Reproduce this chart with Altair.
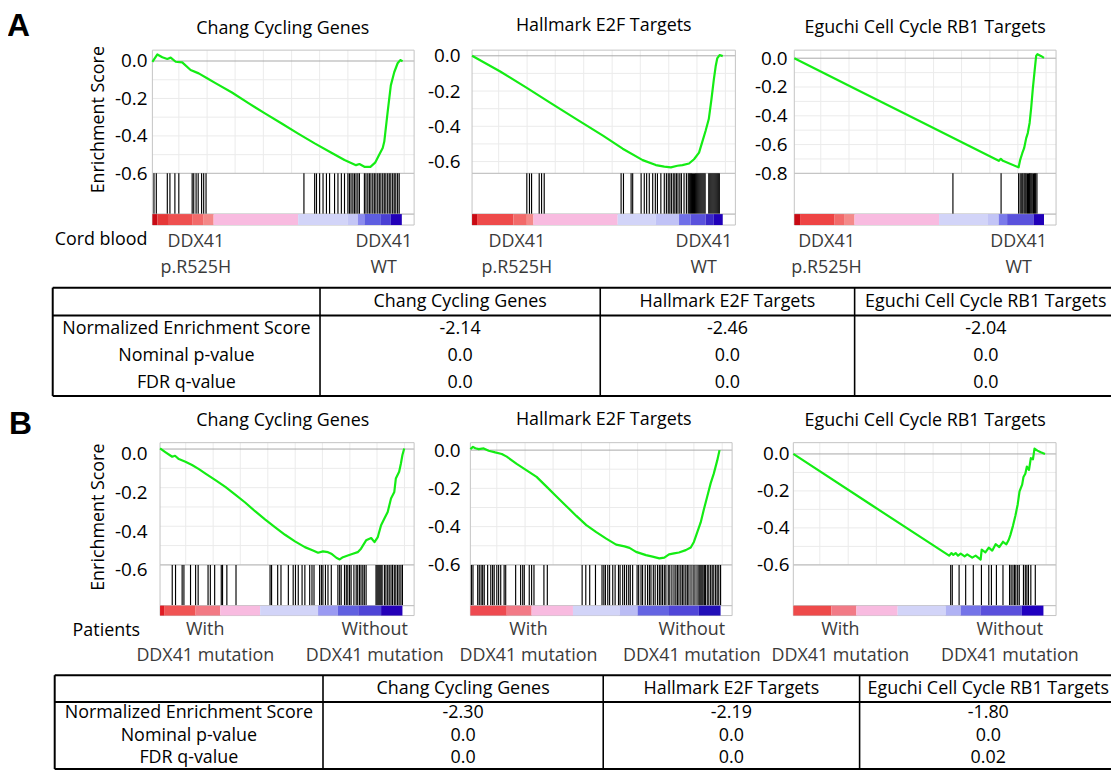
import altair as alt
import pandas as pd

FONT = "Open Sans"
LETTER_FONT = "Liberation Sans"
FRAME = "#c4c4c4"
GRID = "#ebebeb"
ZERO = "#a8a8a8"
GREEN = "#14ec14"

# ---------------- data (x = % of plot frame width, y = enrichment score) ----------------
A1_X = [0, 1.9, 3.8, 5.7, 7.0, 8.9, 11.4, 14.6, 17.7, 20.9, 24.1, 30.4, 36.7, 43.0, 49.4, 55.7, 62.0,
        68.4, 73.4, 77.8, 79.1, 81.0, 83.3, 85.1, 86.7, 88.0, 88.6, 89.9, 91.1, 92.4, 93.7, 94.7, 95.6]
A1_Y = [-0.004, 0.035, 0.020, 0.011, 0.018, -0.004, -0.007, -0.048, -0.066, -0.092, -0.118, -0.168,
        -0.225, -0.280, -0.334, -0.388, -0.440, -0.490, -0.529, -0.556, -0.550, -0.565, -0.565, -0.543,
        -0.499, -0.464, -0.430, -0.270, -0.130, -0.060, -0.012, 0.005, -0.001]
A1_HITS = [0.6, 1.5, 5.7, 6.7, 8.6, 10.1, 15.2, 15.8, 16.7, 17.5, 18.8, 19.6, 20.5, 57.9, 62.0, 62.7,
           63.9, 65.2, 66.5, 67.7, 69.6, 70.9, 72.2, 73.4, 74.7, 75.3, 75.9, 76.6, 77.2, 77.8, 78.5,
           79.1, 81.0, 81.6, 82.3, 82.9, 83.5, 84.2, 84.8, 85.4, 86.1, 86.7, 87.3, 88.0, 88.6, 89.2,
           89.9, 90.5, 91.1, 91.8, 92.4, 93.0, 93.7, 94.3]
A1_CB = [0, 1.9, 6.3, 15.2, 19.6, 23.4, 55.7, 74.7, 78.5, 81.0, 87.3, 91.1, 95.3]
A1_CBC = ["#c80a14", "#e63838", "#ee5050", "#f26a6a", "#f48888", "#f8bbe0", "#d2d4f8", "#c4c6f6",
          "#8c8cee", "#5e5ee0", "#4a40d4", "#2200b8"]

A2_X = [0, 10.7, 20.8, 29.6, 39.6, 49.7, 57.2, 64.8, 69.8, 73.0, 75.5, 78.0, 79.9, 82.4, 84.3, 86.2,
        87.4, 88.7, 89.9, 90.9, 91.8, 92.5, 93.1, 94.0, 95.2]
A2_Y = [0, -0.089, -0.182, -0.266, -0.359, -0.453, -0.527, -0.592, -0.620, -0.629, -0.633, -0.624,
        -0.620, -0.611, -0.587, -0.549, -0.490, -0.425, -0.359, -0.248, -0.136, -0.061, -0.015, 0.004,
        -0.002]
A2_HITS = [20.8, 21.8, 22.6, 25.5, 26.4, 27.4, 56.6, 57.5, 60.4, 61.0, 64.2, 65.4, 66.3, 67.3, 68.6,
           69.6, 70.4, 71.7, 73.0, 73.8, 74.5, 75.1, 75.7, 76.4, 77.0, 77.6, 78.2, 78.9, 79.5, 80.5,
           81.4, 82.1, 82.5, 82.9, 83.3, 83.7, 84.1, 84.5, 84.9, 85.3, 85.7, 86.1, 86.5, 86.9, 87.3,
           87.7, 88.1, 88.5, 89.9, 90.3, 90.7, 91.1, 91.5, 91.9, 92.3, 92.7, 93.1, 93.5, 93.9]
A2_CB = [0, 1.9, 15.7, 20.8, 23.3, 55.3, 69.8, 78.6, 83.0, 88.7, 91.8, 95.2]
A2_CBC = ["#c80a14", "#ee4a4a", "#f26a6a", "#f48a8a", "#f8bbe0", "#d2d4f8", "#c0c2f6", "#7070e8",
          "#5a52dc", "#3a28c8", "#2000b8"]

A3_X = [0, 23.0, 48.4, 78.1, 78.9, 79.7, 85.7, 86.3, 87.1, 87.8, 88.6, 89.2, 89.9, 90.5, 91.1, 91.8,
        92.4, 92.9, 94.2, 95.4]
A3_Y = [0, -0.210, -0.441, -0.713, -0.699, -0.713, -0.758, -0.706, -0.660, -0.625, -0.555, -0.520,
        -0.450, -0.345, -0.217, -0.089, 0.016, 0.028, 0.016, 0.002]
A3_HITS = [60.6, 79.0, 85.7, 86.3, 86.9, 87.3, 87.8, 88.2, 88.6, 89.1, 89.5, 89.9, 90.1, 90.5, 90.9,
           91.4, 91.8, 92.2, 92.7]
A3_CB = [0, 2.2, 15.4, 19.0, 23.0, 55.3, 74.0, 78.1, 81.3, 91.4, 95.4]
A3_CBC = ["#c80a14", "#ee4444", "#f26a6a", "#f48a8a", "#f8bbe0", "#d2d4f8", "#c2c4f6", "#7a7aea",
          "#5a52dc", "#2000b8"]

B1_X = [0, 2.2, 4.8, 5.9, 7.4, 10.0, 12.6, 15.3, 17.9, 21.8, 25.7, 29.6, 33.5, 37.4, 41.3, 45.2, 49.2,
        53.1, 57.0, 60.2, 62.2, 64.1, 66.1, 67.4, 69.4, 70.7, 72.0, 73.9, 75.9, 77.8, 79.1, 81.1, 83.1,
        84.4, 85.7, 87.0, 88.3, 89.6, 90.9, 92.2, 92.8, 94.1, 94.8, 95.4, 96.1]
B1_Y = [0.003, -0.017, -0.040, -0.035, -0.052, -0.066, -0.083, -0.104, -0.127, -0.161, -0.196, -0.236,
        -0.277, -0.322, -0.364, -0.404, -0.444, -0.478, -0.508, -0.525, -0.537, -0.530, -0.534, -0.542,
        -0.563, -0.572, -0.560, -0.551, -0.542, -0.534, -0.516, -0.473, -0.461, -0.482, -0.456, -0.395,
        -0.360, -0.326, -0.256, -0.222, -0.153, -0.118, -0.075, -0.031, 0.003]
B1_HITS = [4.8, 6.1, 8.7, 9.4, 12.0, 14.0, 15.0, 18.9, 19.8, 21.5, 24.1, 24.6, 26.3, 29.9, 43.3, 43.9,
           46.3, 47.6, 50.5, 52.4, 53.3, 54.4, 55.9, 57.0, 58.9, 59.8, 60.6, 62.8, 63.5, 64.1, 65.1,
           66.1, 67.4, 70.0, 70.7, 71.3, 72.6, 73.3, 73.9, 74.6, 75.2, 76.3, 77.2, 77.8, 78.5, 79.1,
           79.8, 80.4, 81.1, 85.0, 85.4, 85.8, 86.2, 86.6, 87.0, 87.4, 88.3, 88.9, 89.6, 90.2, 90.9,
           91.5, 92.2, 92.8, 93.5, 94.1, 94.8, 95.4]
B1_CB = [0, 1.6, 14.0, 23.7, 39.4, 62.2, 70.0, 78.0, 87.0, 95.4]
B1_CBC = ["#e01c24", "#f05454", "#f27a84", "#f8bbe0", "#d2d4f8", "#9a9af2", "#6060e0", "#4e44d6",
          "#2400b8"]

B2_X = [0, 1.0, 1.9, 3.2, 5.1, 7.0, 9.5, 12.0, 13.9, 17.7, 21.5, 25.3, 29.1, 32.9, 36.7, 40.5, 44.3,
        48.1, 51.9, 55.7, 58.9, 60.8, 63.3, 67.1, 69.6, 72.2, 74.1, 75.9, 77.8, 79.7, 82.3, 84.2, 85.4,
        86.7, 88.0, 89.2, 90.5, 91.8, 93.0, 94.3, 95.2]
B2_Y = [0.005, 0.017, 0.010, 0.005, 0.009, -0.003, -0.012, -0.020, -0.034, -0.072, -0.106, -0.140,
        -0.191, -0.242, -0.293, -0.344, -0.392, -0.429, -0.463, -0.494, -0.503, -0.511, -0.532, -0.549,
        -0.557, -0.566, -0.562, -0.545, -0.540, -0.535, -0.523, -0.509, -0.480, -0.429, -0.378, -0.310,
        -0.242, -0.174, -0.123, -0.055, 0.000]
B2_HITS = [0.4, 1.0, 2.8, 3.4, 4.1, 4.7, 5.3, 6.6, 7.8, 8.5, 9.1, 10.1, 10.8, 11.6, 12.9, 13.5, 17.3,
           19.2, 20.0, 20.6, 22.5, 23.4, 24.3, 28.1, 29.4, 42.7, 44.1, 45.6, 47.8, 50.3, 51.0, 51.6,
           52.5, 53.2, 54.4, 55.3, 56.6, 57.2, 58.2, 58.9, 59.7, 60.5, 61.1, 62.0, 63.7, 64.3, 65.2,
           65.8, 66.8, 67.7, 68.4, 69.0, 69.9, 70.6, 71.5, 72.2, 72.8, 73.4, 74.1, 74.7, 75.6, 76.2,
           77.0, 77.8, 78.5, 79.1, 79.7, 80.4, 81.0, 81.6, 82.3, 82.9, 83.5, 84.3, 85.1, 85.8, 86.6,
           87.3, 87.7, 88.1, 88.5, 88.9, 89.4, 89.8, 90.5, 91.1, 91.8, 92.4, 93.0, 93.7, 94.3, 94.9,
           95.6]
B2_CB = [0, 13.9, 23.4, 39.2, 57.0, 63.9, 75.9, 87.3, 95.6]
B2_CBC = ["#ee4a50", "#f27a86", "#f8bbe0", "#d2d4f8", "#babcf4", "#6464e2", "#5046d8", "#2210b8"]

B3_X = [0, 29.6, 59.3, 60.2, 60.9, 61.8, 62.7, 63.7, 65.2, 66.2, 68.1, 69.4, 71.3, 71.7, 73.1, 74.4,
        75.7, 77.0, 78.4, 79.8, 81.1, 82.0, 82.6, 83.6, 84.5, 85.4, 86.1, 87.1, 87.6, 88.3, 88.9, 89.7,
        90.4, 91.2, 91.8, 92.9, 94.2, 95.8]
B3_Y = [0, -0.275, -0.550, -0.536, -0.546, -0.536, -0.550, -0.539, -0.554, -0.543, -0.561, -0.550,
        -0.571, -0.518, -0.532, -0.507, -0.523, -0.488, -0.504, -0.475, -0.489, -0.464, -0.439, -0.389,
        -0.336, -0.273, -0.202, -0.166, -0.125, -0.107, -0.068, -0.086, -0.023, -0.029, 0.029, 0.018,
        0.009, 0.000]
B3_HITS = [59.9, 60.5, 63.1, 65.6, 68.5, 71.6, 74.4, 75.4, 77.3, 79.8, 82.3, 82.9, 83.6, 84.2, 84.7,
           85.4, 86.0, 87.6, 88.3, 88.9, 89.5, 90.4, 92.1]
B3_CB = [0, 14.5, 24.0, 39.7, 58.0, 63.7, 71.2, 87.0, 95.2]
B3_CBC = ["#ee4a4a", "#f27a86", "#f8bbe0", "#d2d4f8", "#b0b2f4", "#7474e8", "#5a50dc", "#2000c0"]

GENE_SETS = ["Chang Cycling Genes", "Hallmark E2F Targets", "Eguchi Cell Cycle RB1 Targets"]
Y_TITLE = "Enrichment Score"
A_LINE1 = ["DDX41", "DDX41"]
A_LINE2 = ["p.R525H", "WT"]
B_LINE1 = ["With", "Without"]
B_LINE2 = ["DDX41 mutation", "DDX41 mutation"]
A_LBL_X = [[16.6, 88.4], [17.0, 88.0], [12.3, 85.7]]
B_LBL_X = [[17.8, 84.5], [22.2, 84.6], [17.9, 82.4]]

ROW_LABELS = ["Normalized Enrichment Score", "Nominal p-value", "FDR q-value"]
A_NES = ["-2.14", "-2.46", "-2.04"]
A_PVAL = ["0.0", "0.0", "0.0"]
A_FDR = ["0.0", "0.0", "0.0"]
B_NES = ["-2.30", "-2.19", "-1.80"]
B_PVAL = ["0.0", "0.0", "0.0"]
B_FDR = ["0.0", "0.0", "0.02"]

# ---------------- layout constants ----------------
GRID_X = [10.1, 20.9, 31.6, 42.4, 53.2, 63.9, 74.7, 85.4, 96.2]
GRID_Y = [-0.1, -0.2, -0.3, -0.4, -0.5, -0.6, -0.7, -0.8]
TICKS6 = [0, -0.2, -0.4, -0.6]
TICKS8 = [0, -0.2, -0.4, -0.6, -0.8]
COLW = [100, 263, 59, 265, 59, 264]
NCOL = len(COLW)


def blank(w, h):
    return alt.Chart(pd.DataFrame({"t": [""]})).mark_text().encode(text="t:N").properties(width=w, height=h)


def note(txt, w, h, x, y, size=18, bold=False, font=FONT, baseline="middle", align="left", angle=0):
    kw = dict(font=font, fontSize=size, align=align, baseline=baseline, color="#000000")
    if bold:
        kw["fontWeight"] = "bold"
    if angle:
        kw["angle"] = angle
    return (alt.Chart(pd.DataFrame({"t": [txt]})).mark_text(**kw)
            .encode(x=alt.value(x), y=alt.value(y), text="t:N").properties(width=w, height=h))


def frame_layer(X):
    return (alt.Chart(pd.DataFrame({"a": [0], "b": [100]}))
            .mark_rect(fillOpacity=0, stroke=FRAME, strokeWidth=1)
            .encode(x=X("a"), x2="b"))


def panel(title, cx, cy, hits, cb, cbc, ydom, ticks, w, rng, h_es, h_bc, h_cb,
          lbl_x, line1, line2, dy1, dy2, lab_pad, lab_off=0):
    xsc = alt.Scale(domain=[0, 100], range=rng, nice=False, zero=False)
    ysc = alt.Scale(domain=ydom, nice=False, zero=False)
    axis = alt.Axis(values=ticks,
                    labelExpr="datum.value == 0 ? '0.0' : '-' + format(-datum.value, '.1f')",
                    labelFont=FONT, labelFontSize=19, labelColor="#000000", labelPadding=lab_pad,
                    labelOffset=lab_off, domain=False, ticks=False, grid=False)

    def Y(f):
        return alt.Y(f, type="quantitative", scale=ysc, axis=axis, title=None)

    def X(f):
        return alt.X(f, type="quantitative", scale=xsc, axis=None)

    vgrid = alt.Chart(pd.DataFrame({"gx": GRID_X})).mark_rule(color=GRID, strokeWidth=1).encode(x=X("gx"))
    gy = [v for v in GRID_Y if v > ydom[0] + 0.005]
    hgrid = (alt.Chart(pd.DataFrame({"gy": gy, "a": 0, "b": 100}))
             .mark_rule(color=GRID, strokeWidth=1).encode(y=Y("gy"), x=X("a"), x2="b"))
    zero = (alt.Chart(pd.DataFrame({"z": [0.0], "a": [0], "b": [100]}))
            .mark_rule(color=ZERO, strokeWidth=1).encode(y=Y("z"), x=X("a"), x2="b"))
    curve = (alt.Chart(pd.DataFrame({"x": cx, "y": cy}))
             .mark_line(color=GREEN, strokeWidth=2.2, strokeJoin="round")
             .encode(x=X("x"), y=Y("y")))
    es = alt.layer(vgrid, hgrid, zero, frame_layer(X), curve).properties(
        width=w, height=h_es,
        title=alt.Title(title, font=FONT, fontSize=18, fontWeight="normal", color="#000000",
                        offset=12, frame="group"))

    bars = (alt.Chart(pd.DataFrame({"h": hits})).mark_rule(color="#000000", strokeWidth=1.15)
            .encode(x=X("h")))
    bc = alt.layer(frame_layer(X), bars).properties(width=w, height=h_bc)

    rects = (alt.Chart(pd.DataFrame({"x0": cb[:-1], "x1": cb[1:], "c": cbc})).mark_rect()
             .encode(x=X("x0"), x2="x1", color=alt.Color("c:N", scale=None)))
    t1 = (alt.Chart(pd.DataFrame({"lx": lbl_x, "t": line1}))
          .mark_text(font=FONT, fontSize=18, color="#3a3a3a", baseline="middle")
          .encode(x=X("lx"), y=alt.value(dy1), text="t:N"))
    t2 = (alt.Chart(pd.DataFrame({"lx": lbl_x, "t": line2}))
          .mark_text(font=FONT, fontSize=18, color="#3a3a3a", baseline="middle")
          .encode(x=X("lx"), y=alt.value(dy2), text="t:N"))
    cbar = alt.layer(frame_layer(X), rects, t1, t2).properties(width=w, height=h_cb)
    return es, bc, cbar


def table(cols, w, th, header_h, row_h, nes, pval, fdr):
    tw = cols[-1]
    xsc = alt.Scale(domain=[0, tw], range=[0, tw], nice=False, zero=False)
    ysc = alt.Scale(domain=[0, th], nice=False, zero=False, reverse=True)
    cx = [(cols[i] + cols[i + 1]) / 2 for i in range(4)]
    cells = []
    for i, g in enumerate(GENE_SETS):
        cells.append({"x": cx[i + 1], "y": header_h / 2, "t": g})
    for r, (lab, vals) in enumerate(zip(ROW_LABELS, [nes, pval, fdr])):
        yc = header_h + row_h * (r + 0.5)
        cells.append({"x": cx[0], "y": yc, "t": lab})
        for i, v in enumerate(vals):
            cells.append({"x": cx[i + 1], "y": yc, "t": v})
    XX = alt.X("x:Q", scale=xsc, axis=None)
    YY = alt.Y("y:Q", scale=ysc, axis=None)
    txt = (alt.Chart(pd.DataFrame(cells))
           .mark_text(font=FONT, fontSize=18, color="#000000", baseline="middle", align="center")
           .encode(x=XX, y=YY, text="t:N"))
    bottom = header_h + 3 * row_h
    outer_v = pd.DataFrame({"x": [cols[0], cols[-1]], "y": [0, 0], "y2": [bottom, bottom]})
    inner_v = pd.DataFrame({"x": cols[1:-1], "y": [0] * 3, "y2": [bottom] * 3})
    hlines = pd.DataFrame({"y": [0, header_h, bottom], "x": [cols[0]] * 3, "x2": [cols[-1]] * 3})
    ov = alt.Chart(outer_v).mark_rule(color="#000000", strokeWidth=2).encode(x=XX, y=YY, y2="y2")
    iv = alt.Chart(inner_v).mark_rule(color="#000000", strokeWidth=1.6).encode(x=XX, y=YY, y2="y2")
    hl = alt.Chart(hlines).mark_rule(color="#000000", strokeWidth=2).encode(x=XX, x2="x2", y=YY)
    return alt.layer(iv, ov, hl, txt).properties(width=w, height=th)


def spacer_row(h, first=None):
    cells = [first if first is not None else blank(COLW[0], h)]
    cells += [blank(1, h) for _ in range(NCOL - 1)]
    return cells


# ---------------- panels ----------------
A1 = panel(GENE_SETS[0], A1_X, A1_Y, A1_HITS, A1_CB, A1_CBC, [-0.6, 0.058], TICKS6, 263, [0.3, 263.7],
           124, 41, 11, A_LBL_X[0], A_LINE1, A_LINE2, 28, 54, 5)
A2 = panel(GENE_SETS[1], A2_X, A2_Y, A2_HITS, A2_CB, A2_CBC, [-0.667, 0.032], TICKS6, 265, [0, 265],
           124, 41, 11, A_LBL_X[1], A_LINE1, A_LINE2, 28, 54, 12)
A3 = panel(GENE_SETS[2], A3_X, A3_Y, A3_HITS, A3_CB, A3_CBC, [-0.8, 0.056], TICKS8, 264, [0.3, 263.7],
           124, 41, 11, A_LBL_X[2], A_LINE1, A_LINE2, 28, 54, 7)
B1 = panel(GENE_SETS[0], B1_X, B1_Y, B1_HITS, B1_CB, B1_CBC, [-0.6, 0.033], TICKS6, 263, [8, 263.7],
           123, 41, 10, B_LBL_X[0], B_LINE1, B_LINE2, 25, 51, 5, 5)
B2 = panel(GENE_SETS[1], B2_X, B2_Y, B2_HITS, B2_CB, B2_CBC, [-0.6, 0.039], TICKS6, 265, [-1.7, 261.7],
           123, 41, 10, B_LBL_X[1], B_LINE1, B_LINE2, 25, 51, 12)
B3 = panel(GENE_SETS[2], B3_X, B3_Y, B3_HITS, B3_CB, B3_CBC, [-0.6, 0.061], TICKS6, 264, [-0.7, 263.7],
           123, 41, 10, B_LBL_X[2], B_LINE1, B_LINE2, 25, 51, 5)

tableA = table([0, 269, 551, 807, 1071], COLW[0], 109, 28, 27, A_NES, A_PVAL, A_FDR)
tableB = table([2, 272, 554, 812, 1071], COLW[0], 96, 27, 22.5, B_NES, B_PVAL, B_FDR)

cells = []
heightsA = [124, 41, 11]
for k in range(3):
    if k == 0:
        first = alt.layer(
            note("A", COLW[0], 124, -46, -39, size=32, bold=True, font=LETTER_FONT, baseline="top"),
            note(Y_TITLE, COLW[0], 124, 47, 70, align="center", angle=270),
        ).properties(width=COLW[0], height=124)
    else:
        first = blank(COLW[0], heightsA[k])
    cells += [first, A1[k], blank(COLW[2], heightsA[k]), A2[k], blank(COLW[4], heightsA[k]), A3[k]]
cells += spacer_row(63, note("Cord blood", COLW[0], 63, 2, 15))
cells += spacer_row(109, tableA)
cells += spacer_row(47, note("B", COLW[0], 47, -44, 13, size=32, bold=True, font=LETTER_FONT,
                             baseline="top"))
heightsB = [123, 41, 10]
for k in range(3):
    if k == 0:
        first = note(Y_TITLE, COLW[0], 123, 47, 75, align="center", angle=270)
    else:
        first = blank(COLW[0], heightsB[k])
    cells += [first, B1[k], blank(COLW[2], heightsB[k]), B2[k], blank(COLW[4], heightsB[k]), B3[k]]
cells += spacer_row(60, note("Patients", COLW[0], 60, 20, 16))
cells += spacer_row(96, tableB)

SVG_W, SVG_H = 1110, 762
PAD_L, PAD_T = 45, 40
chart = alt.concat(*cells, columns=NCOL, spacing=0, bounds="flush", align="each").properties(
    autosize=alt.AutoSizeParams(type="none"),
    padding={"left": PAD_L, "top": PAD_T, "right": SVG_W - PAD_L, "bottom": SVG_H - PAD_T},
    background="white",
).configure_view(strokeWidth=0)

chart.save("out.html", embed_options={"renderer": "svg", "actions": False})
